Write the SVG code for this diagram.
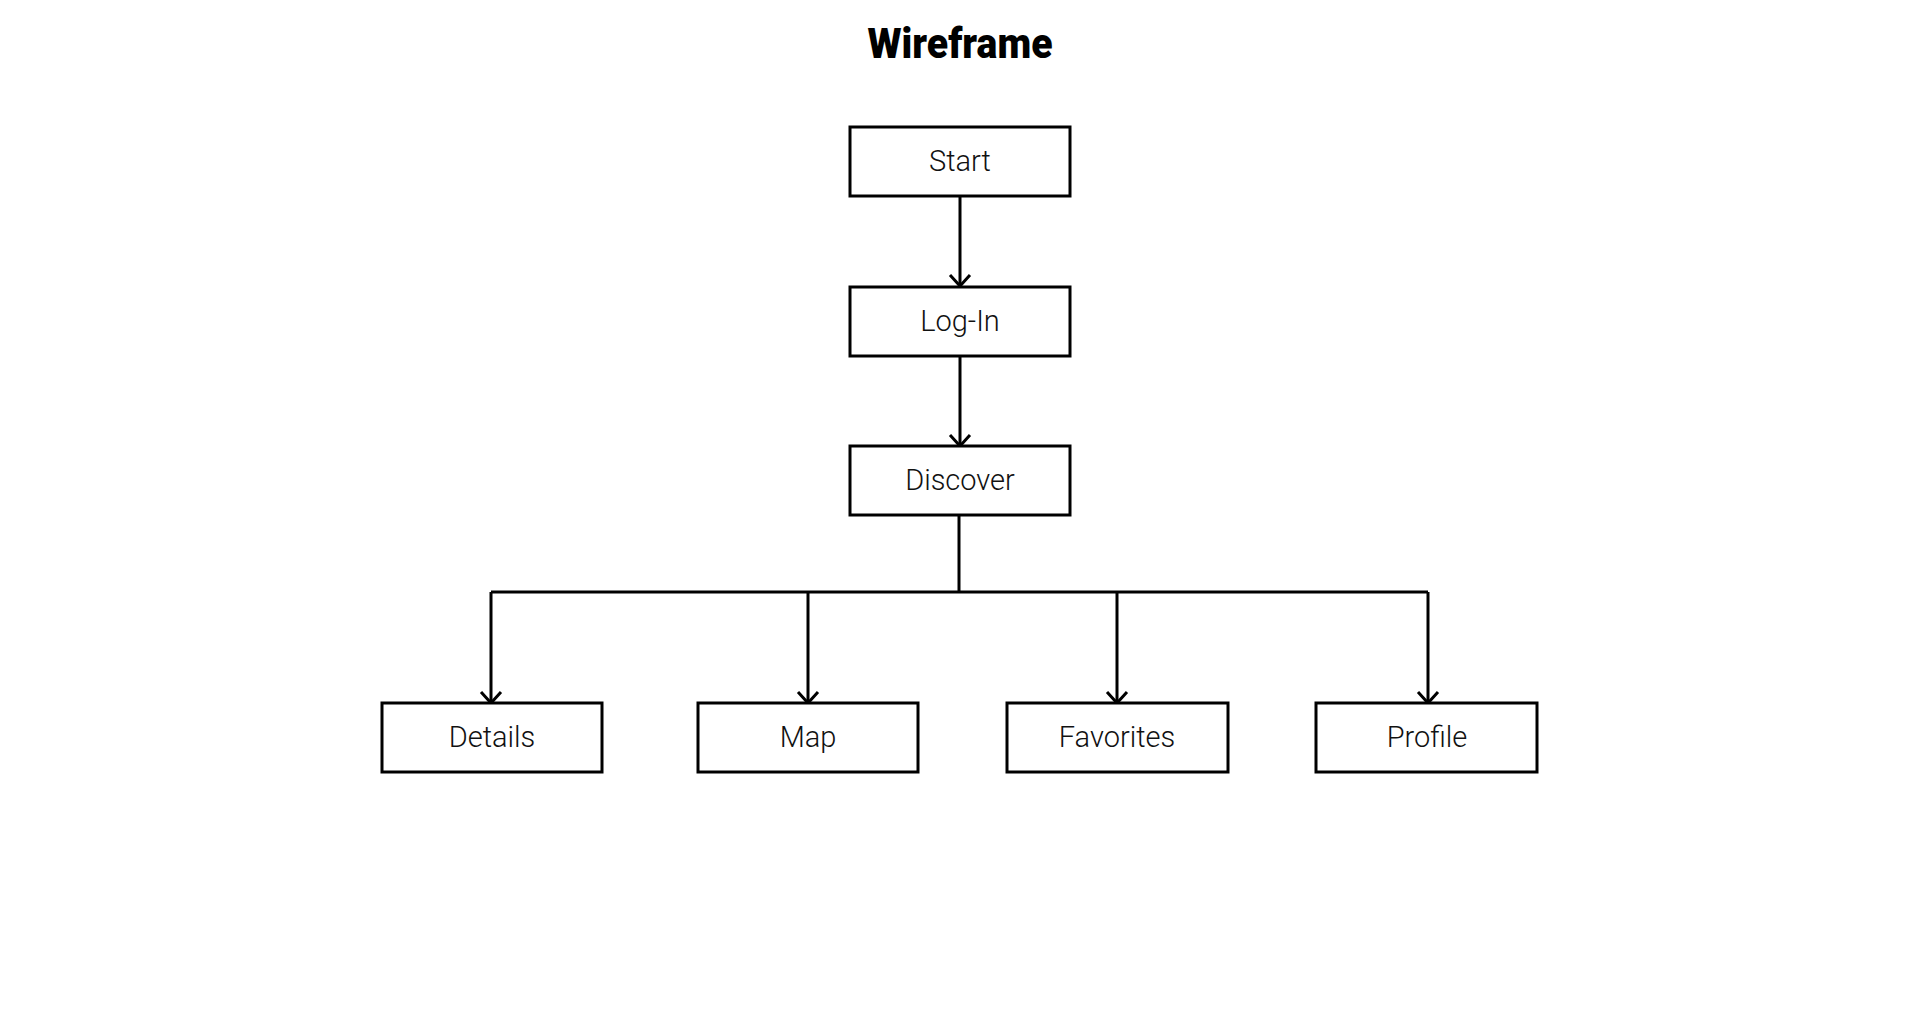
<svg xmlns="http://www.w3.org/2000/svg" width="1920" height="1010" viewBox="0 0 1920 1010">
<style>
.box{fill:#fff;stroke:#000;stroke-width:3}
.lbl{font-family:Roboto,"Liberation Sans",sans-serif;font-size:29px;font-weight:300;fill:#111;text-anchor:middle}
.title{font-family:Roboto,"Liberation Sans",sans-serif;font-size:42px;font-weight:900;fill:#000;text-anchor:middle}
.conn{fill:none;stroke:#000;stroke-width:3}
</style>
<defs>
<marker id="arr" markerUnits="userSpaceOnUse" markerWidth="30" markerHeight="30" viewBox="-15 -15 30 30" refX="0" refY="0" orient="auto">
<path d="M -11,-10 L 0,0 L -11,10" fill="none" stroke="#000" stroke-width="3"/>
</marker>
</defs>
<rect width="1920" height="1010" fill="#fff"/>
<text class="title" x="960" y="58" textLength="185" lengthAdjust="spacingAndGlyphs">Wireframe</text>
<g id="connectors">
<path class="conn" d="M960,196 V286" marker-end="url(#arr)"/>
<path class="conn" d="M960,356 V446" marker-end="url(#arr)"/>
<path class="conn" d="M959,515 V592"/>
<path class="conn" d="M491,592 H1428"/>
<path class="conn" d="M491,592 V703" marker-end="url(#arr)"/>
<path class="conn" d="M808,592 V703" marker-end="url(#arr)"/>
<path class="conn" d="M1117,592 V703" marker-end="url(#arr)"/>
<path class="conn" d="M1428,592 V703" marker-end="url(#arr)"/>
</g>
<g id="start"><rect class="box" x="850" y="127" width="220" height="69"/><text class="lbl" x="960" y="171">Start</text></g>
<g id="login"><rect class="box" x="850" y="287" width="220" height="69"/><text class="lbl" x="960" y="331">Log-In</text></g>
<g id="discover"><rect class="box" x="850" y="446" width="220" height="69"/><text class="lbl" x="960" y="490">Discover</text></g>
<g id="details"><rect class="box" x="382" y="703" width="220" height="69"/><text class="lbl" x="492" y="747">Details</text></g>
<g id="map"><rect class="box" x="698" y="703" width="220" height="69"/><text class="lbl" x="808" y="747">Map</text></g>
<g id="favorites"><rect class="box" x="1007" y="703" width="221" height="69"/><text class="lbl" x="1117" y="747">Favorites</text></g>
<g id="profile"><rect class="box" x="1316" y="703" width="221" height="69"/><text class="lbl" x="1427" y="747">Profile</text></g>
</svg>
